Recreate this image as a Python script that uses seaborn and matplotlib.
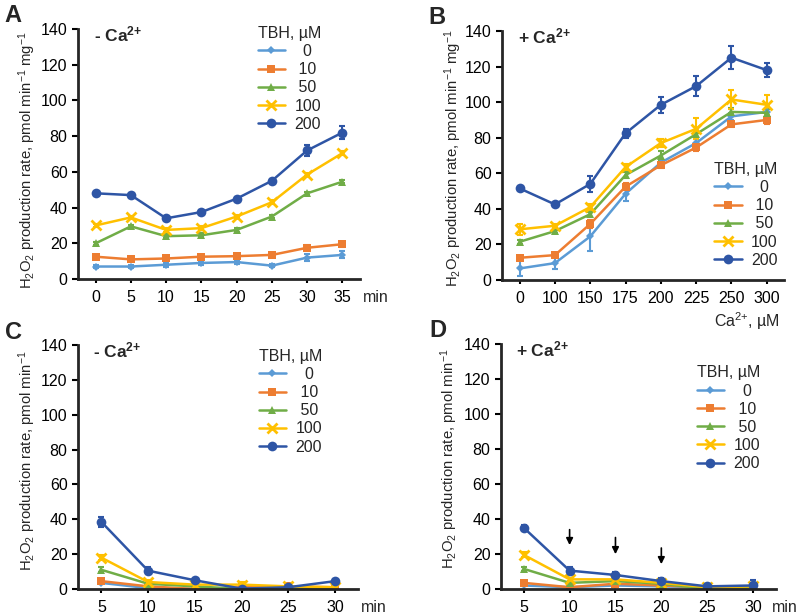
import matplotlib
matplotlib.use("Agg")
import matplotlib.pyplot as plt
import seaborn as sns

sns.set_style("ticks")
plt.rcParams['font.family'] = ['Liberation Sans', 'DejaVu Sans']
plt.rcParams['mathtext.fontset'] = 'custom'
plt.rcParams['mathtext.rm'] = 'Liberation Sans'
plt.rcParams['mathtext.it'] = 'Liberation Sans:italic'
plt.rcParams['mathtext.bf'] = 'Liberation Sans:bold'

tbh_levels = ['0', '10', '50', '100', '200']
tbh_labels = ['  0', ' 10', ' 50', '100', '200']
colors = ['#5B9BD5', '#ED7D31', '#70AD47', '#FFC000', '#2E55A5']
markers = ['D', 's', '^', 'x', 'o']
msizes = [4, 6, 6, 7, 7]

# Panel A: -Ca2+, time course
a_time = ['0', '5', '10', '15', '20', '25', '30', '35']
a_0 = [7, 7, 8, 9, 9.5, 7.5, 12, 13.5]
a_10 = [12.5, 11, 11.5, 12.5, 12.8, 13.5, 17.5, 19.5]
a_50 = [20, 29.5, 24, 24.5, 27.5, 35, 48, 54.5]
a_100 = [30, 34.5, 27.5, 28.5, 35, 43, 58.5, 70.5]
a_200 = [48, 47, 34, 37.5, 45, 55, 72, 82]
a_err_0 = [1, 1, 1, 1, 1, 1, 2, 2]
a_err_10 = [1, 1, 1, 1, 1, 1, 1.5, 1.5]
a_err_50 = [1, 1, 1, 1, 1, 1, 1, 1]
a_err_100 = [1, 1, 1, 1, 1, 1, 1, 1]
a_err_200 = [1, 1, 1, 1, 1, 1, 3, 3.5]

# Panel B: +Ca2+, Ca2+ concentration
b_ca = ['0', '100', '150', '175', '200', '225', '250', '300']
b_0 = [6.5, 9.5, 24.5, 48.5, 66, 77, 92, 94.5]
b_10 = [12.5, 14, 31.5, 52.5, 64.5, 74.5, 87.5, 90]
b_50 = [21.5, 27.5, 37, 59, 70, 82, 94.5, 94]
b_100 = [28.5, 30.5, 41, 63.5, 77, 85, 101.5, 98.5]
b_200 = [51.5, 42.5, 54, 82.5, 98.5, 109, 125, 118]
b_err_0 = [4.5, 3.5, 8, 4, 2, 2, 2, 2]
b_err_10 = [1, 1, 2, 2, 1.5, 2, 1.5, 2.5]
b_err_50 = [1, 1, 1.5, 1.5, 2.5, 2, 2, 2]
b_err_100 = [3, 1, 1.5, 1.5, 2, 6, 5.5, 5.5]
b_err_200 = [1, 1, 4.5, 2.5, 4.5, 5.5, 6.5, 4]

# Panel C: -Ca2+, time course
c_time = ['5', '10', '15', '20', '25', '30']
c_0 = [3.5, 0.5, 0, 0, 0.5, 0]
c_10 = [4.5, 1.5, 0, 1, 1.5, 1]
c_50 = [11, 3, 1.5, 0, 0, 0.5]
c_100 = [18, 4, 2.5, 2.5, 1.5, 1]
c_200 = [38.5, 10.5, 5, 0.2, 1, 4.5]
c_err_0 = [0.5, 0.5, 0.5, 0.5, 0.5, 0.5]
c_err_10 = [1, 0.5, 0.5, 0.5, 0.5, 0.5]
c_err_50 = [1.5, 0.5, 0.5, 0.5, 0.5, 0.5]
c_err_100 = [1.5, 1, 0.5, 1.5, 1, 0.5]
c_err_200 = [3, 2, 1, 0.5, 0.5, 1]

# Panel D: +Ca2+, time course (arrows mark Ca2+ additions)
d_time = ['5', '10', '15', '20', '25', '30']
d_0 = [2, 1, 2, 1.5, 1, 1]
d_10 = [3.5, 1, 3, 2, 1, 1.5]
d_50 = [11.5, 3.5, 4.5, 3, 0, 0.5]
d_100 = [19.5, 5.5, 5.5, 3.5, 1, 1.5]
d_200 = [35, 10.5, 8, 4.5, 1.5, 2]
d_err_0 = [0.5, 0.5, 0.5, 0.5, 0.5, 0.5]
d_err_10 = [1, 0.5, 0.5, 0.5, 0.5, 0.5]
d_err_50 = [1, 0.5, 0.5, 0.5, 0.5, 0.5]
d_err_100 = [1.5, 1, 1, 1, 1, 1.5]
d_err_200 = [1.5, 2, 1.5, 2, 1, 3]
d_arrow_at = ['10', '15', '20']
d_arrow_top = [35.5, 31, 25]
d_arrow_tip = [23.5, 18.3, 12.6]

ylabel_full = r'H$_2$O$_2$ production rate, pmol min$^{-1}$ mg$^{-1}$'
ylabel_short = r'H$_2$O$_2$ production rate, pmol min$^{-1}$'


def draw_panel(ax, cats, series, errors, letter, ca_text, ylabel,
               label_xy, legend_at):
    handles = []
    for lbl, vals, err, col, mk, ms in zip(tbh_labels, series, errors,
                                           colors, markers, msizes):
        ax.errorbar(cats, vals, yerr=err, fmt='none', ecolor=col,
                    elinewidth=1.5, capsize=2.5, capthick=1.5, zorder=1,
                    label='_nolegend_')
        sns.lineplot(x=cats, y=vals, color=col, marker=mk, markersize=ms,
                     markeredgewidth=2 if mk == 'x' else 0,
                     markeredgecolor=col, linewidth=1.8, sort=False,
                     label=lbl, legend=False, ax=ax)
        handles.append(ax.get_lines()[-1])

    ax.set_ylim(0, 140)
    ax.set_yticks(range(0, 141, 20))
    ax.set_xlim(-0.5, len(cats) - 0.5)
    ax.set_xlabel('')
    ax.set_ylabel(ylabel, fontsize=10.7)
    ax.yaxis.set_label_coords(*label_xy)
    ax.tick_params(axis='both', labelsize=11.5, width=1.5, colors='black')
    ax.tick_params(axis='y', length=4)
    ax.tick_params(axis='x', length=3, pad=5)
    for s in ['left', 'bottom']:
        ax.spines[s].set_linewidth(2)
    sns.despine(ax=ax)

    ax.legend(handles, tbh_labels, title='TBH, µM', frameon=False,
              fontsize=11.5, title_fontsize=11.5, loc='upper left',
              bbox_to_anchor=legend_at, bbox_transform=ax.figure.transFigure,
              borderpad=0, borderaxespad=0, handlelength=1.7,
              handletextpad=0.6, labelspacing=0.2, alignment='left')

    ax.text(0.055, 1.02, ca_text, transform=ax.transAxes, fontsize=12.5,
            fontweight='bold', va='top', ha='left')
    ax.text(-0.26, 1.1, letter, transform=ax.transAxes, fontsize=17,
            fontweight='bold', va='top', ha='left')


fig = plt.figure(figsize=(8, 6.15), dpi=100)
ax_a = fig.add_axes([0.0975, 0.5463, 0.3525, 0.4065])
ax_b = fig.add_axes([0.6275, 0.5447, 0.353, 0.4049])
ax_c = fig.add_axes([0.0975, 0.0423, 0.3505, 0.3967])
ax_d = fig.add_axes([0.626, 0.0423, 0.344, 0.3984])

ca_minus = r'- Ca$^{\mathbf{2{+}}}$'
ca_plus = r'+ Ca$^{\mathbf{2{+}}}$'
draw_panel(ax_a, a_time, [a_0, a_10, a_50, a_100, a_200],
           [a_err_0, a_err_10, a_err_50, a_err_100, a_err_200],
           'A', ca_minus, ylabel_full, (-0.142, 0.475), (0.322, 0.958))
draw_panel(ax_b, b_ca, [b_0, b_10, b_50, b_100, b_200],
           [b_err_0, b_err_10, b_err_50, b_err_100, b_err_200],
           'B', ca_plus, ylabel_full, (-0.133, 0.49), (0.893, 0.737))
draw_panel(ax_c, c_time, [c_0, c_10, c_50, c_100, c_200],
           [c_err_0, c_err_10, c_err_50, c_err_100, c_err_200],
           'C', ca_minus, ylabel_short, (-0.142, 0.525), (0.3235, 0.433))
draw_panel(ax_d, d_time, [d_0, d_10, d_50, d_100, d_200],
           [d_err_0, d_err_10, d_err_50, d_err_100, d_err_200],
           'D', ca_plus, ylabel_short, (-0.15, 0.53), (0.871, 0.406))

for ax, dx in [(ax_a, 2), (ax_c, 2), (ax_d, -3)]:
    ax.annotate('min', xy=(1.0, 0), xycoords='axes fraction',
                xytext=(dx, -8), textcoords='offset points',
                fontsize=11.5, ha='left', va='top')
ax_b.annotate(r'Ca$^{2{+}}$, µM', xy=(1.0, 0), xycoords='axes fraction',
              xytext=(-3, -22), textcoords='offset points',
              fontsize=11.5, ha='right', va='top')

for cat, top, tip in zip(d_arrow_at, d_arrow_top, d_arrow_tip):
    xpos = d_time.index(cat)
    ax_d.annotate('', xy=(xpos, tip), xytext=(xpos, top),
                  arrowprops=dict(arrowstyle='-|>', color='black', lw=1.2,
                                  mutation_scale=10))

fig.savefig('out.png', dpi=100)
